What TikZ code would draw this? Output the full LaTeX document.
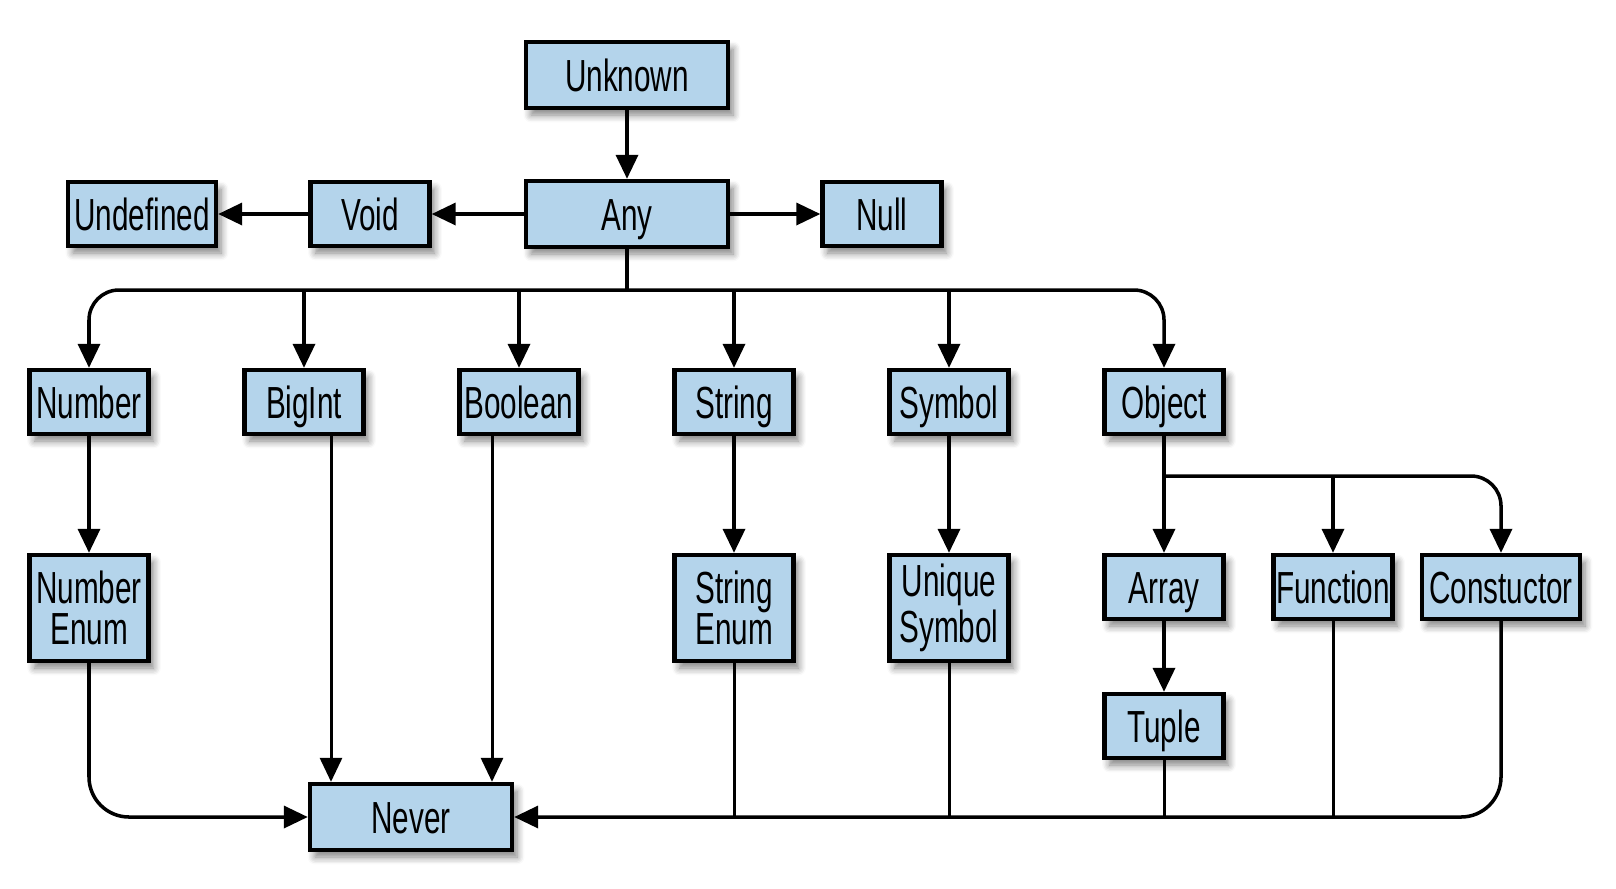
\documentclass[tikz,border=0pt]{standalone}
\usepackage{fontspec}
\setmainfont{Liberation Sans}[FakeStretch=0.66]
\usetikzlibrary{arrows.meta, shadows.blur}

\definecolor{typeblue}{RGB}{180,212,235}

\tikzset{
    typebox/.style={draw, line width=1.25pt, fill=typeblue, align=center,
        minimum width=11.9mm, minimum height=6.4mm, inner sep=0pt,
        text height=3.9mm, text depth=0.7mm,
        font=\fontsize{12.8}{11.7}\selectfont,
        blur shadow={shadow xshift=0.5mm, shadow yshift=-0.7mm, shadow blur steps=6, shadow opacity=50}},
    widebox/.style={typebox, minimum width=20.2mm, minimum height=6.6mm},
    tallbox/.style={typebox, minimum height=10.6mm, text height=, text depth=},
    conn/.style={line width=1pt},
    thinconn/.style={line width=0.85pt}
}

\begin{document}
\begin{tikzpicture}[x=0.1mm, y=-0.1mm, >={Triangle[length=2.4mm, width=2.2mm]}]
    \useasboundingbox (0,0) rectangle (1616,888);

    % Top types
    \node[widebox] (unknown) at (627, 75) {Unknown};
    \node[widebox] (any) at (627, 214) {Any};
    \node[typebox] (void) at (370, 214) {Void};
    \node[typebox, minimum width=14.8mm] (undefined) at (142, 214) {Undefined};
    \node[typebox] (null) at (882, 214) {Null};

    % Primitive types
    \node[typebox] (number) at (89, 402) {Number};
    \node[typebox] (bigint) at (304, 402) {BigInt};
    \node[typebox] (boolean) at (519, 402) {Boolean};
    \node[typebox] (string) at (734, 402) {String};
    \node[typebox] (symbol) at (949, 402) {Symbol};
    \node[typebox] (object) at (1164, 402) {Object};

    % Subtypes
    \node[tallbox] (numenum) at (89, 608) {Number\\Enum};
    \node[tallbox] (strenum) at (734, 608) {String\\Enum};
    \node[tallbox] (unisym) at (949, 608) {Unique\\Symbol};
    \node[typebox] (array) at (1164, 587) {Array};
    \node[typebox] (function) at (1333, 587) {Function};
    \node[typebox, minimum width=15.8mm] (ctor) at (1501, 587) {Constuctor};
    \node[typebox] (tuple) at (1164, 726) {Tuple};

    % Bottom type
    \node[widebox] (never) at (411, 817) {Never};

    % Unknown and Any
    \draw[->, conn] (unknown) -- (any);
    \draw[->, conn] (any) -- (void);
    \draw[->, conn] (void) -- (undefined);
    \draw[->, conn] (any) -- (null);

    % Any branches down
    \coordinate (split) at (627, 290);
    \draw[conn] (any.south) -- (split);
    \draw[->, conn, rounded corners=3mm] (split) -| (number.north);
    \draw[->, conn, rounded corners=3mm] (split) -| (object.north);
    \foreach \t in {bigint, boolean, string, symbol} {
        \draw[->, conn] (split -| \t.north) -- (\t.north);
    }

    % Narrowed types
    \draw[->, conn] (number) -- (numenum);
    \draw[->, conn] (string) -- (strenum);
    \draw[->, conn] (symbol) -- (unisym);
    \draw[->, conn] (array) -- (tuple);

    % Object branches
    \coordinate (osplit) at (1164, 476);
    \draw[->, conn] (object) -- (array);
    \draw[->, conn] (osplit -| function.north) -- (function.north);
    \draw[->, conn, rounded corners=3mm] (osplit) -| (ctor.north);

    % Everything reaches Never
    \draw[->, conn, rounded corners=4mm] (numenum.south) |- (never.west);
    \draw[->, conn, rounded corners=4mm] (ctor.south) |- (never.east);
    \draw[->, thinconn] ([xshift=2.7mm]bigint.south) -- ([xshift=2.7mm]bigint.south |- never.north);
    \draw[->, thinconn] ([xshift=-2.7mm]boolean.south) -- ([xshift=-2.7mm]boolean.south |- never.north);
    \foreach \t in {strenum, unisym, tuple, function} {
        \draw[thinconn] (\t.south) -- (\t.south |- never.east);
    }
\end{tikzpicture}
\end{document}
